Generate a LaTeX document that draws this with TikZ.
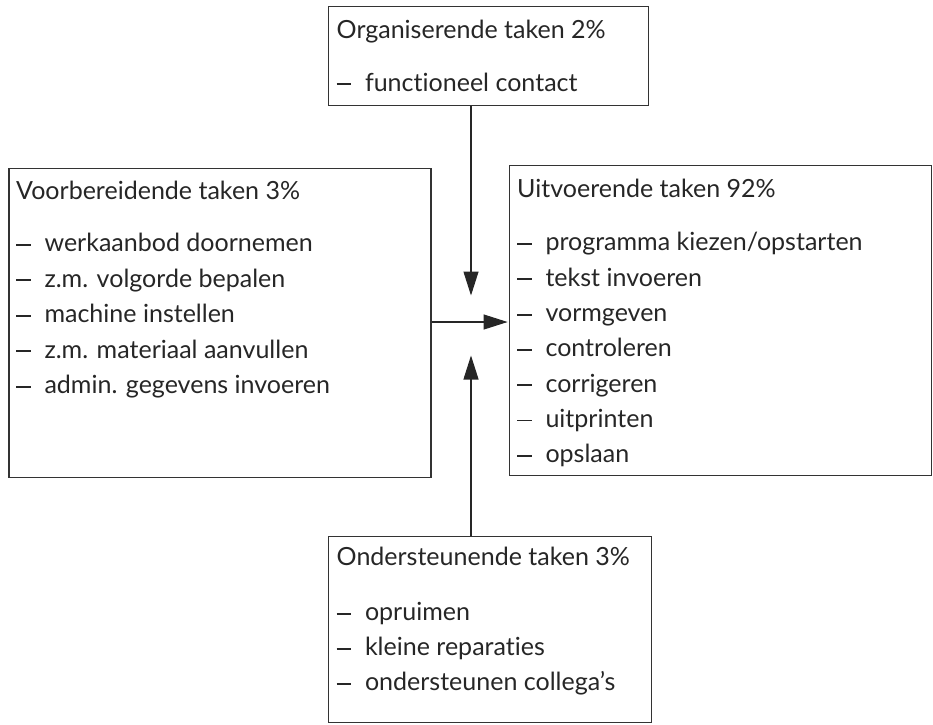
\documentclass[tikz,border=0pt]{standalone}
\usepackage{fontspec}
\setmainfont{Lato}[Ligatures=NoCommon]
\usetikzlibrary{arrows.meta}
\newlength\calib
\newcommand\itm[1]{\makebox[28.3pt][l]{\rule[5.8pt]{14.5pt}{1.9pt}}#1}
\begin{document}
\settowidth\calib{\fontsize{20pt}{24pt}\selectfont Organiserende taken 2\%}%
\pgfmathsetmacro\fsz{20*269/\calib}%
\xdef\bodyfont{\noexpand\fontsize{\fsz pt}{\fsz pt}\noexpand\selectfont}%
\begin{tikzpicture}[x=1pt,y=-1pt,
  box/.style={draw=black!80, line width=1.3pt, inner sep=0pt, anchor=north west},
  txt/.style={anchor=base west, inner sep=0pt, font=\bodyfont, text=black!85},
  arr/.style={draw=black!85, line width=1.1pt, -{Triangle[length=24pt,width=15pt]}}]
\useasboundingbox (0,0) rectangle (933,724);
% boxes
\node[box, minimum width=320.5pt, minimum height=99.5pt] (org) at (327.5,5.5) {};
\node[box, minimum width=422.1pt, minimum height=308.9pt] (voor) at (8.3,167.6) {};
\node[box, minimum width=422.4pt, minimum height=309.6pt] (uit) at (508.6,165) {};
\node[box, minimum width=323.5pt, minimum height=186.4pt] (ond) at (327.5,535.6) {};
% texts: organiserende
\node[txt] (orgT) at (336.5,38) {Organiserende taken 2\%};
\node[txt] (orgA) at (336.5,91) {\itm{functioneel contact}};
% voorbereidende
\node[txt] (voorT) at (16,199) {Voorbereidende taken 3\%};
\node[txt] (voorA) at (16,251.7) {\itm{werkaanbod doornemen}};
\node[txt] (voorB) at (16,287) {\itm{z.m. volgorde bepalen}};
\node[txt] (voorC) at (16,322.5) {\itm{machine instellen}};
\node[txt] (voorD) at (16,358) {\itm{z.m. materiaal aanvullen}};
\node[txt] (voorE) at (16,393.5) {\itm{admin. gegevens invoeren}};
% uitvoerende
\node[txt] (uitT) at (517,197) {Uitvoerende taken 92\%};
\node[txt] (uitA) at (517,250.5) {\itm{programma kiezen/opstarten}};
\node[txt] (uitB) at (517,286) {\itm{tekst invoeren}};
\node[txt] (uitC) at (517,321.3) {\itm{vormgeven}};
\node[txt] (uitD) at (517,356.6) {\itm{controleren}};
\node[txt] (uitE) at (517,392) {\itm{corrigeren}};
\node[txt] (uitF) at (517,427.2) {\itm{uitprinten}};
\node[txt] (uitG) at (517,462.4) {\itm{opslaan}};
% ondersteunende
\node[txt] (ondT) at (336.5,565.6) {Ondersteunende taken 3\%};
\node[txt] (ondA) at (336.5,620.5) {\itm{opruimen}};
\node[txt] (ondB) at (336.5,655.5) {\itm{kleine reparaties}};
\node[txt] (ondC) at (336.5,690.3) {\itm{ondersteunen collega's}};
% connectors
\coordinate (tipA) at (471,295.5);
\coordinate (tipC) at (471,355.5);
\coordinate (midH) at (470,322);
\draw[arr] (org.south -| tipA) -- (tipA);
\draw[arr] (ond.north -| tipC) -- (tipC);
\draw[arr, shorten >=1pt] (voor.east |- midH) -- (uit.west |- midH);
\end{tikzpicture}
\end{document}
